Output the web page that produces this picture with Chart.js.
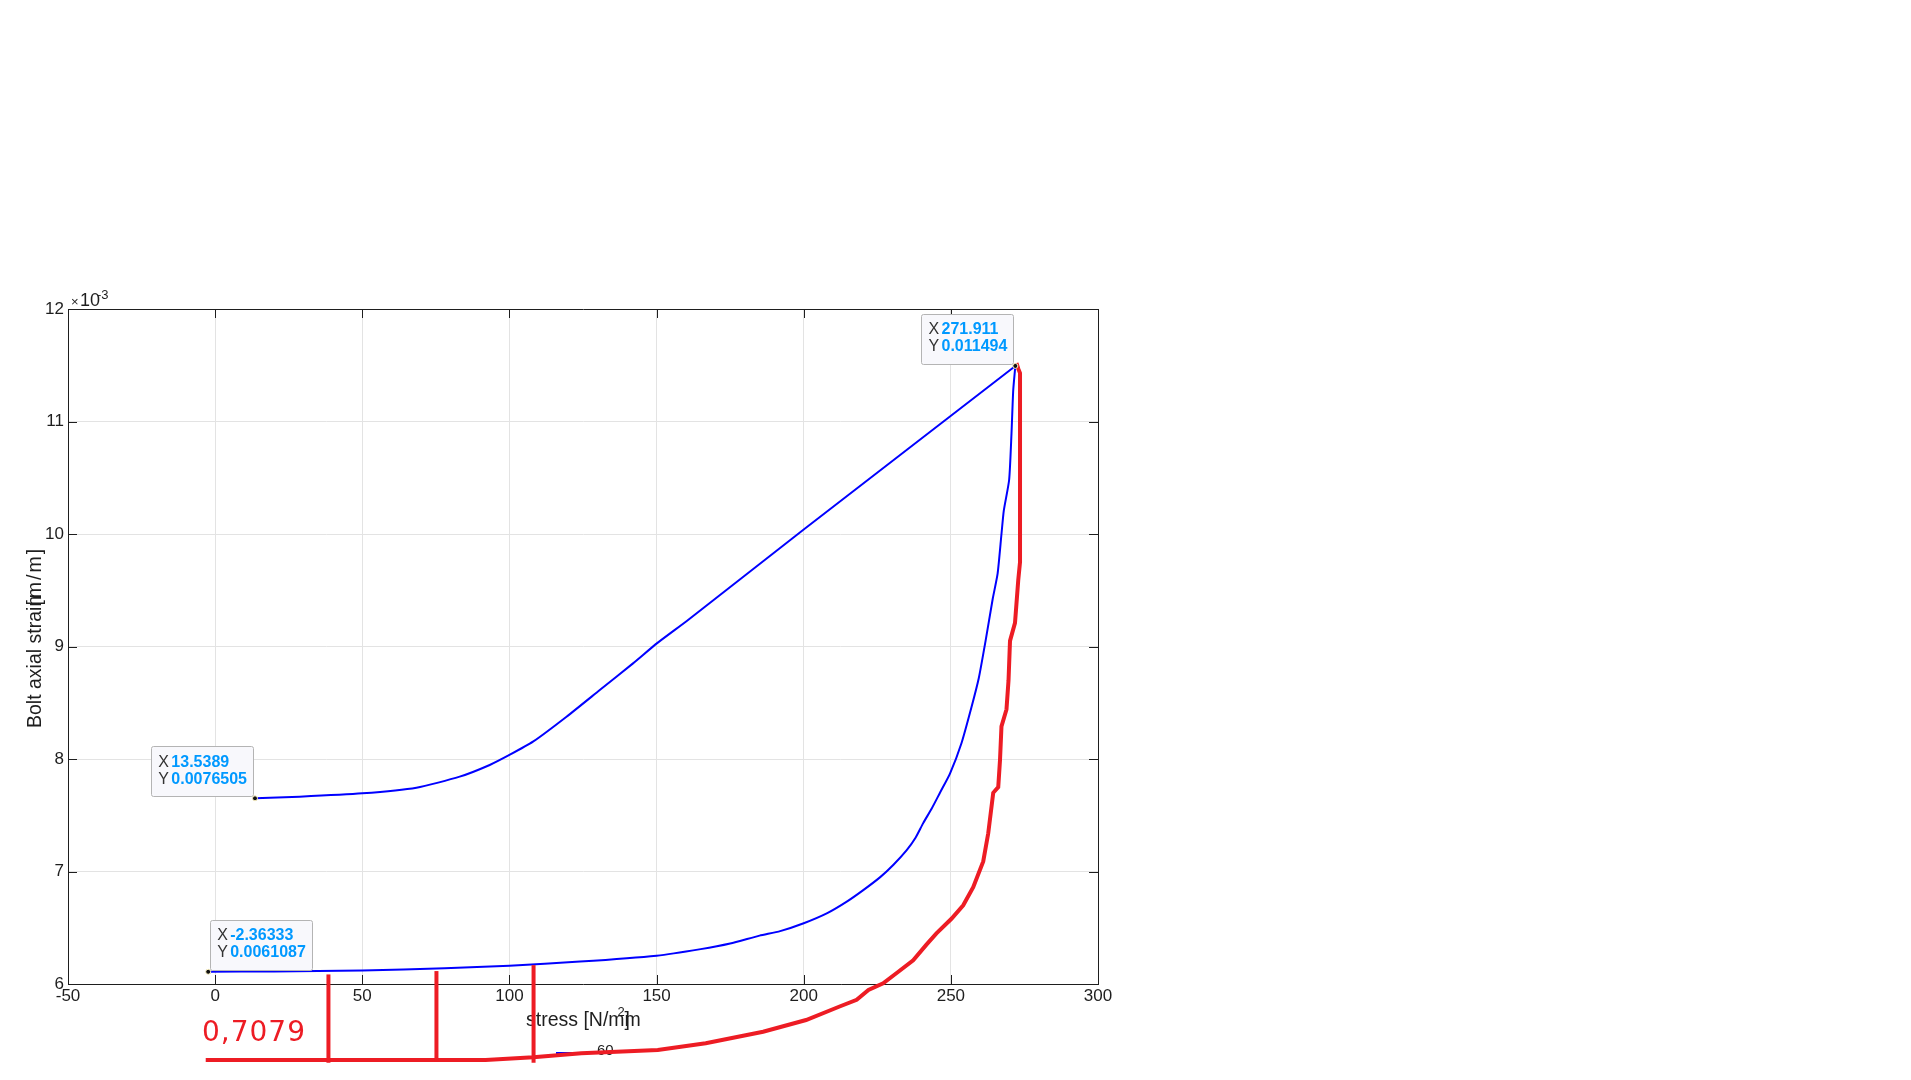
<!DOCTYPE html>
<html>
<head>
<meta charset="utf-8">
<script src="https://cdn.jsdelivr.net/npm/chart.js@4.4.1/dist/chart.umd.min.js"></script>
<style>
  html, body { margin: 0; padding: 0; background: #fff; }
  canvas { display: block; }
</style>
</head>
<body>
<canvas id="chart" width="1911" height="1080"></canvas>
<script>
// loading branch, stress [N/mm2] vs bolt strain [m/m]
const loadStress = [-2.36333, 20, 50, 78, 100, 124, 150, 165, 175, 185, 192, 200, 208, 214.5, 220, 226, 230.5, 235, 238,
  240.6, 243.5, 246.3, 249.7, 253.6, 257, 259.5, 261.8, 264.2, 265.9, 267.2, 268, 269.8, 270.6, 271.2, 271.911];
const loadStrain = [0.0061087, 0.006112, 0.006119, 0.006139, 0.006163, 0.006199, 0.006252, 0.00631, 0.00636, 0.00643,
  0.00647, 0.00654, 0.00663, 0.00673, 0.00683, 0.00695, 0.00706, 0.00719, 0.0073, 0.00743, 0.00756, 0.0077, 0.00787,
  0.00814, 0.00846, 0.00872, 0.00905, 0.00942, 0.00965, 0.01, 0.01021, 0.01048, 0.01089, 0.01128, 0.011494];

// unloading branch
const unloadStress = [271.911, 200, 160.7, 150.2, 142, 130.7, 119.4, 108, 100, 93.3, 83.1, 68.4, 50, 28.7, 13.5389];
const unloadStrain = [0.011494, 0.01004, 0.009236, 0.00903, 0.00885, 0.008613, 0.008376, 0.008154, 0.008036, 0.007947,
  0.007843, 0.007745, 0.007695, 0.007665, 0.0076505];

// red hand-drawn curve on top of the plot
const sketchStress = [-3.2, 62.6, 91.9, 108.1, 124.4, 150.4, 166.7, 186.2, 200.8, 212.2, 218, 222, 227, 231.7, 237.2,
  241.7, 245.1, 250.2, 254.2, 257.6, 261, 262.7, 264.4, 266.1, 266.7, 267.2, 268.9, 269.6, 270.1, 271.8, 272.9, 273.5,
  273.5, 272.9, 272.3];
const sketchStrain = [0.005324, 0.005324, 0.005324, 0.005348, 0.005384, 0.005413, 0.005473, 0.005576, 0.00568, 0.0058,
  0.00586, 0.005947, 0.006006, 0.0061, 0.00621, 0.00635, 0.00645, 0.00658, 0.0067, 0.00686, 0.00709, 0.00734, 0.0077,
  0.00775, 0.00799, 0.00829, 0.00844, 0.0087, 0.00905, 0.00921, 0.00959, 0.00975, 0.01143, 0.01147, 0.01152];

// red vertical marks
const markStress = [38.5, 75.2, 108.2];
const markTop = [0.006085, 0.006115, 0.006168];
const markBottom = [0.0053, 0.00531, 0.0053];

// data tips
const tipStress = [271.911, 13.5389, -2.36333];
const tipStrain = [0.011494, 0.0076505, 0.0061087];
const tipXText = ['271.911', '13.5389', '-2.36333'];
const tipYText = ['0.011494', '0.0076505', '0.0061087'];

const xTicks = [-50, 0, 50, 100, 150, 200, 250, 300];
const yTicks = [6, 7, 8, 9, 10, 11, 12];
const seriesName = '60';
const sketchNote = '0,7079';

const FONT = "'Liberation Sans', Arial, sans-serif";
const INK = '#1e1e1e';
const RED = '#ed1c24';

const pts = (xs, ys) => xs.map((x, i) => ({ x, y: ys[i] }));

const markSets = markStress.map((s, i) => ({
  data: [{ x: s, y: markBottom[i] }, { x: s, y: markTop[i] }],
  showLine: true, borderColor: RED, borderWidth: 4, pointRadius: 0, clip: false
}));

const matlabFrame = {
  id: 'matlabFrame',
  beforeDatasetsDraw(chart) {
    const { ctx, chartArea: a } = chart;
    ctx.save();
    ctx.fillStyle = INK;

    // x label, glyphs overlap like the original render
    ctx.font = `19.5px ${FONT}`;
    ctx.textAlign = 'left';
    ctx.textBaseline = 'alphabetic';
    const x0 = (a.left + a.right) / 2 - 57;
    const base = a.bottom + 42;
    ctx.fillText('stress [N/mm', x0, base);
    const wm = ctx.measureText('stress [N/m').width;
    ctx.fillText(']', x0 + wm, base);
    ctx.font = `13px ${FONT}`;
    ctx.fillText('2', x0 + wm - 7, base - 10);

    // y label
    ctx.save();
    ctx.translate(a.left - 27, a.bottom - 256);
    ctx.rotate(-Math.PI / 2);
    ctx.font = `19.5px ${FONT}`;
    ctx.fillText('Bolt axial strain', 0, 0);
    const ws = ctx.measureText('Bolt axial strai').width;
    ctx.letterSpacing = '2px';
    ctx.fillText('[m/m]', ws + 1, 0);
    ctx.restore();

    // exponent
    ctx.font = `13px ${FONT}`;
    ctx.fillText('\u00d7', a.left + 3, a.top - 3);
    ctx.font = `18px ${FONT}`;
    ctx.fillText('10', a.left + 12, a.top - 3);
    ctx.font = `13px ${FONT}`;
    ctx.fillText('-3', a.left + 29, a.top - 10);

    // legend entry
    const ly = a.bottom + 69;
    ctx.strokeStyle = '#0000ff';
    ctx.lineWidth = 2;
    ctx.beginPath();
    ctx.moveTo(556, ly);
    ctx.lineTo(580, ly);
    ctx.stroke();
    ctx.font = `15px ${FONT}`;
    ctx.textBaseline = 'middle';
    ctx.fillText(seriesName, 597, ly - 2);
    ctx.restore();
  },
  afterDatasetsDraw(chart) {
    const { ctx, chartArea: a, scales: { x, y } } = chart;
    ctx.save();

    // box + inward ticks on all sides
    ctx.strokeStyle = INK;
    ctx.lineWidth = 1;
    ctx.beginPath();
    ctx.moveTo(a.left + 0.5, a.top + 0.5);
    ctx.lineTo(a.right + 0.5, a.top + 0.5);
    ctx.lineTo(a.right + 0.5, a.bottom + 0.5);
    xTicks.forEach(v => {
      const px = Math.round(x.getPixelForValue(v)) + 0.5;
      ctx.moveTo(px, a.bottom); ctx.lineTo(px, a.bottom - 9);
      ctx.moveTo(px, a.top); ctx.lineTo(px, a.top + 9);
    });
    yTicks.forEach(v => {
      const py = Math.round(y.getPixelForValue(v / 1000)) + 0.5;
      ctx.moveTo(a.left, py); ctx.lineTo(a.left + 9, py);
      ctx.moveTo(a.right, py); ctx.lineTo(a.right - 9, py);
    });
    ctx.stroke();

    // red handwritten note
    ctx.fillStyle = RED;
    ctx.font = `28px 'DejaVu Sans', ${FONT}`;
    ctx.textBaseline = 'alphabetic';
    ctx.textAlign = 'left';
    ctx.letterSpacing = '1px';
    ctx.fillText(sketchNote, a.left + 134, a.bottom + 57);
    ctx.letterSpacing = '0px';

    // data tips
    tipStress.forEach((s, i) => {
      const px = x.getPixelForValue(s);
      const py = y.getPixelForValue(tipStrain[i]);
      ctx.font = `bold 16px ${FONT}`;
      const vw = Math.max(ctx.measureText(tipXText[i]).width, ctx.measureText(tipYText[i]).width);
      const w = vw + 26, h = 50;
      const left = i === 2 ? px + 2 : px - 2 - w;
      const top = py - 2 - h;
      ctx.fillStyle = '#f8f8fc';
      ctx.strokeStyle = '#b4b4b4';
      ctx.lineWidth = 1;
      ctx.beginPath();
      ctx.roundRect(Math.round(left) + 0.5, Math.round(top) + 0.5, Math.round(w), h, 2);
      ctx.fill();
      ctx.stroke();
      ctx.textBaseline = 'middle';
      ctx.font = `16px ${FONT}`;
      ctx.fillStyle = '#333333';
      ctx.fillText('X', left + 7, top + 16);
      ctx.fillText('Y', left + 7, top + 33);
      ctx.font = `bold 16px ${FONT}`;
      ctx.fillStyle = '#0099ff';
      ctx.fillText(tipXText[i], left + 20, top + 16);
      ctx.fillText(tipYText[i], left + 20, top + 33);
      ctx.beginPath();
      ctx.arc(px, py, 2.5, 0, Math.PI * 2);
      ctx.fillStyle = '#111';
      ctx.strokeStyle = '#fff5c8';
      ctx.fill();
      ctx.stroke();
    });
    ctx.restore();
  }
};

new Chart(document.getElementById('chart'), {
  type: 'scatter',
  data: {
    datasets: [
      ...markSets,
      { data: pts(sketchStress, sketchStrain), showLine: true, borderColor: RED, borderWidth: 4,
        pointRadius: 0, tension: 0, clip: false },
      { data: pts(unloadStress, unloadStrain), showLine: true, borderColor: '#0000ff', borderWidth: 2,
        pointRadius: 0, tension: 0.2 },
      { data: pts(loadStress, loadStrain), showLine: true, borderColor: '#0000ff', borderWidth: 2,
        pointRadius: 0, tension: 0.2 }
    ]
  },
  options: {
    responsive: false,
    animation: false,
    devicePixelRatio: 1,
    layout: { padding: { left: 0, top: 309, right: 813, bottom: 66 } },
    plugins: { legend: { display: false }, tooltip: { enabled: false } },
    scales: {
      x: {
        type: 'linear',
        min: xTicks[0],
        max: xTicks[xTicks.length - 1],
        afterFit: s => { s.height = 30; },
        afterBuildTicks: s => { s.ticks = xTicks.map(v => ({ value: v })); },
        ticks: { color: INK, font: { family: FONT, size: 17 }, padding: 2, maxRotation: 0,
          callback: v => String(v) },
        grid: { color: '#e3e3e3', drawTicks: false },
        border: { color: INK }
      },
      y: {
        type: 'linear',
        min: yTicks[0] / 1000,
        max: yTicks[yTicks.length - 1] / 1000,
        afterFit: s => { s.width = 68; },
        afterBuildTicks: s => { s.ticks = yTicks.map(v => ({ value: v / 1000 })); },
        ticks: { color: INK, font: { family: FONT, size: 17 }, padding: 4,
          callback: v => String(Math.round(v * 1000)) },
        grid: { color: '#e3e3e3', drawTicks: false },
        border: { color: INK }
      }
    }
  },
  plugins: [matlabFrame]
});
</script>
</body>
</html>
